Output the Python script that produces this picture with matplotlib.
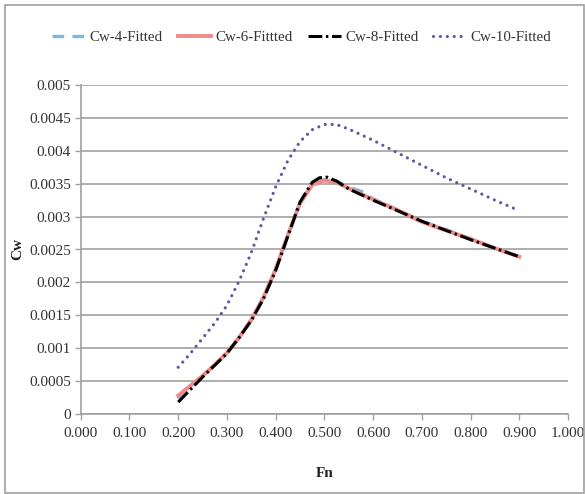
import matplotlib
matplotlib.use("Agg")
import matplotlib.pyplot as plt
from matplotlib.patches import Rectangle

# ---- data ----
fn_cw4 = [0.200, 0.225, 0.250, 0.275, 0.300, 0.325, 0.350, 0.375, 0.400, 0.425,
          0.450, 0.475, 0.500, 0.525, 0.550, 0.580, 0.600, 0.650, 0.700, 0.750,
          0.800, 0.850, 0.900]
cw4 = [0.00023, 0.00040, 0.00057, 0.00075, 0.00093, 0.00117, 0.00143, 0.00178,
       0.00220, 0.00271, 0.00321, 0.00350, 0.00356, 0.00354, 0.00345, 0.00337,
       0.00327, 0.00310, 0.00293, 0.00280, 0.00266, 0.00252, 0.00239]

fn_cw6 = [0.200, 0.225, 0.250, 0.275, 0.300, 0.325, 0.350, 0.375, 0.400, 0.425,
          0.450, 0.475, 0.500, 0.525, 0.550, 0.600, 0.650, 0.700, 0.750, 0.800,
          0.850, 0.900]
cw6 = [0.00028, 0.00043, 0.00058, 0.00075, 0.00093, 0.00116, 0.00143, 0.00177,
       0.00220, 0.00272, 0.00320, 0.00348, 0.00355, 0.00352, 0.00343, 0.00326,
       0.00310, 0.00292, 0.00279, 0.00266, 0.00252, 0.00239]

fn_cw8 = [0.200, 0.225, 0.250, 0.275, 0.300, 0.325, 0.350, 0.375, 0.400, 0.425,
          0.450, 0.475, 0.490, 0.505, 0.525, 0.550, 0.600, 0.650, 0.700, 0.750,
          0.800, 0.850, 0.900]
cw8 = [0.00018, 0.00037, 0.00056, 0.00074, 0.00092, 0.00116, 0.00142, 0.00175,
       0.00218, 0.00270, 0.00322, 0.00352, 0.00359, 0.00360, 0.00354, 0.00342,
       0.00325, 0.00309, 0.00293, 0.00279, 0.00265, 0.00252, 0.00239]

fn_cw10 = [0.200, 0.225, 0.250, 0.275, 0.300, 0.325, 0.350, 0.375, 0.400, 0.425,
           0.450, 0.475, 0.500, 0.525, 0.550, 0.600, 0.650, 0.700, 0.750, 0.800,
           0.850, 0.900]
cw10 = [0.00071, 0.00092, 0.00115, 0.00138, 0.00165, 0.00202, 0.00245, 0.00297,
        0.00345, 0.00385, 0.00414, 0.00432, 0.00440, 0.00440, 0.00433, 0.00416,
        0.00397, 0.00378, 0.00359, 0.00342, 0.00325, 0.00309]

x_ticks = [0.0, 0.1, 0.2, 0.3, 0.4, 0.5, 0.6, 0.7, 0.8, 0.9, 1.0]
x_tick_labels = ["0.000", "0.100", "0.200", "0.300", "0.400", "0.500",
                 "0.600", "0.700", "0.800", "0.900", "1.000"]
y_ticks = [0, 0.0005, 0.001, 0.0015, 0.002, 0.0025, 0.003, 0.0035, 0.004, 0.0045, 0.005]
y_tick_labels = ["0", "0.0005", "0.001", "0.0015", "0.002", "0.0025", "0.003",
                 "0.0035", "0.004", "0.0045", "0.005"]

plt.rcParams['font.family'] = ['Liberation Serif', 'DejaVu Serif']

fig = plt.figure(figsize=(5.85, 4.94), dpi=100)
fig.patches.append(Rectangle((5/585, 1/494), 579/585, 488/494, transform=fig.transFigure,
                             fill=False, edgecolor='#a0a0a0', linewidth=1.2))
ax = fig.add_axes([80.7/585, 1 - 414/494, (568 - 80.7)/585, (414 - 85)/494])

ax.plot(fn_cw4, cw4, color='#7db8e3', lw=2.4, dashes=(3.5, 2.5), label='Cw-4-Fitted', zorder=3)
ax.plot(fn_cw6, cw6, color='#f08a8a', lw=2.8, label='Cw-6-Fittted', zorder=4)
ax.plot(fn_cw8, cw8, color='black', lw=2.2, dashes=(4.5, 1.2, 0.8, 1.2), label='Cw-8-Fitted', zorder=5)
ax.plot(fn_cw10, cw10, color='#6a53a0', lw=2.3, dashes=(0.01, 2.15), dash_capstyle='round',
        label='Cw-10-Fitted', zorder=3)

ax.set_xlim(0, 1.0)
ax.set_ylim(0, 0.005)
ax.set_xticks(x_ticks)
ax.set_xticklabels(x_tick_labels)
ax.set_yticks(y_ticks)
ax.set_yticklabels(y_tick_labels)
ax.tick_params(axis='both', direction='out', length=4, color='#a0a0a0', labelsize=11,
               labelcolor='#333333', width=1)
ax.tick_params(axis='x', pad=5)
ax.tick_params(axis='y', pad=3)
ax.grid(axis='y', color='#a8a8a8', lw=1.3)
ax.set_axisbelow(True)
for s in ['top', 'right']:
    ax.spines[s].set_visible(False)
for s in ['left', 'bottom']:
    ax.spines[s].set_color('#a0a0a0')
    ax.spines[s].set_linewidth(1.2)

ax.set_xlabel('Fn', fontweight='bold', fontsize=11, labelpad=20, color='#222222')
ax.set_ylabel('Cw', fontweight='bold', fontsize=11, color='#222222')
ax.yaxis.set_label_coords(-0.116, 0.5)

fig.legend(loc='center', bbox_to_anchor=(0.516, 0.925), ncol=4, frameon=False,
           fontsize=10.8, handlelength=2.2, columnspacing=1.0, handletextpad=0.3,
           labelcolor='#333333')

fig.savefig('out.png', dpi=100)
